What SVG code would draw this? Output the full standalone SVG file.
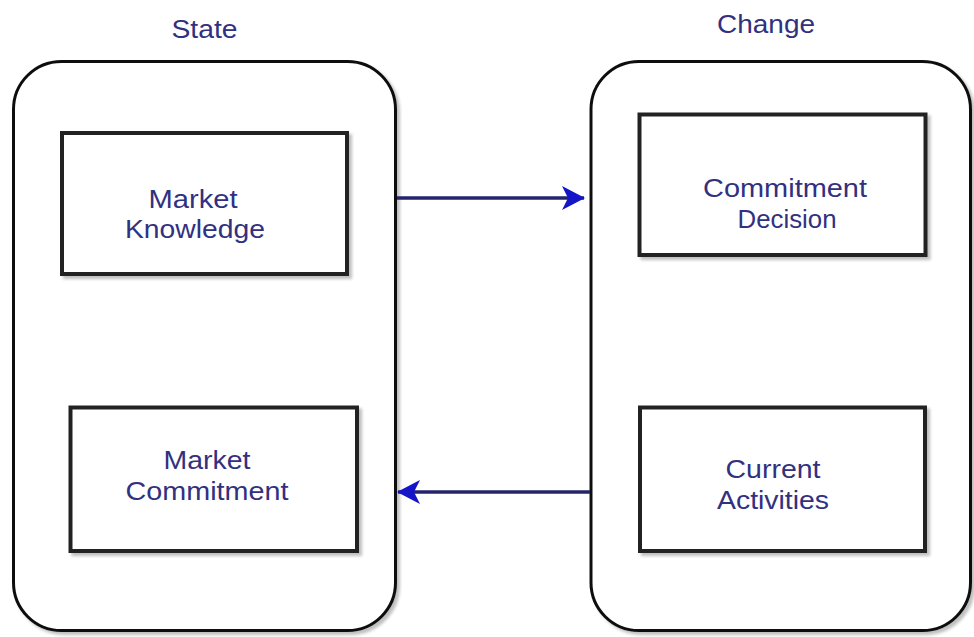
<svg xmlns="http://www.w3.org/2000/svg" width="974" height="637" viewBox="0 0 974 637">
  <defs>
    <style>
      .container { fill: #ffffff; stroke: #111111; stroke-width: 3; }
      .box { fill: #ffffff; stroke: #222222; stroke-width: 4; }
      .label { font-family: "Liberation Sans", Arial, sans-serif; font-size: 25px; fill: #313180; text-anchor: middle; }
      .edge { fill: none; stroke: #24246e; stroke-width: 3.5; }
    </style>
    <filter id="shadow" x="-5%" y="-5%" width="115%" height="115%">
      <feDropShadow dx="3" dy="3" stdDeviation="1.5" flood-color="#000000" flood-opacity="0.25"/>
    </filter>
    <marker id="arrow" viewBox="0 0 24 24" refX="22" refY="12" markerWidth="24" markerHeight="24" markerUnits="userSpaceOnUse" orient="auto">
      <path d="M0,0 L23,12 L0,24 L6,12 Z" fill="#1414c8"/>
    </marker>
  </defs>
  <rect width="974" height="637" fill="#ffffff"/>

  <text class="label" x="204.5" y="38" textLength="66" lengthAdjust="spacingAndGlyphs">State</text>
  <text class="label" x="766" y="33" textLength="98" lengthAdjust="spacingAndGlyphs">Change</text>

  <g id="state">
    <rect class="container" x="13.5" y="61.5" width="382" height="569" rx="48" ry="48" filter="url(#shadow)"/>
  </g>
  <g id="change">
    <rect class="container" x="591" y="61.5" width="379.5" height="569" rx="48" ry="48" filter="url(#shadow)"/>
  </g>

  <g id="market-knowledge">
    <rect class="box" x="62" y="133" width="285" height="141" filter="url(#shadow)"/>
    <text class="label" x="193" y="208" textLength="89" lengthAdjust="spacingAndGlyphs">Market</text>
    <text class="label" x="195" y="238" textLength="140" lengthAdjust="spacingAndGlyphs">Knowledge</text>
  </g>

  <g id="market-commitment">
    <rect class="box" x="70.5" y="407.5" width="286.5" height="143.5" filter="url(#shadow)"/>
    <text class="label" x="207" y="469" textLength="87" lengthAdjust="spacingAndGlyphs">Market</text>
    <text class="label" x="207" y="500" textLength="163" lengthAdjust="spacingAndGlyphs">Commitment</text>
  </g>

  <g id="commitment-decision">
    <rect class="box" x="639.5" y="114.5" width="286" height="140.5" filter="url(#shadow)"/>
    <text class="label" x="785" y="197" textLength="164" lengthAdjust="spacingAndGlyphs">Commitment</text>
    <text class="label" x="787" y="228" textLength="99" lengthAdjust="spacingAndGlyphs">Decision</text>
  </g>

  <g id="current-activities">
    <rect class="box" x="640" y="407.5" width="285" height="143.5" filter="url(#shadow)"/>
    <text class="label" x="773" y="478" textLength="95" lengthAdjust="spacingAndGlyphs">Current</text>
    <text class="label" x="773" y="509" textLength="112" lengthAdjust="spacingAndGlyphs">Activities</text>
  </g>

  <g id="connectors">
    <path class="edge" d="M397,198 L584,198" marker-end="url(#arrow)"/>
    <path class="edge" d="M590,492 L398,492" marker-end="url(#arrow)"/>
  </g>
</svg>
